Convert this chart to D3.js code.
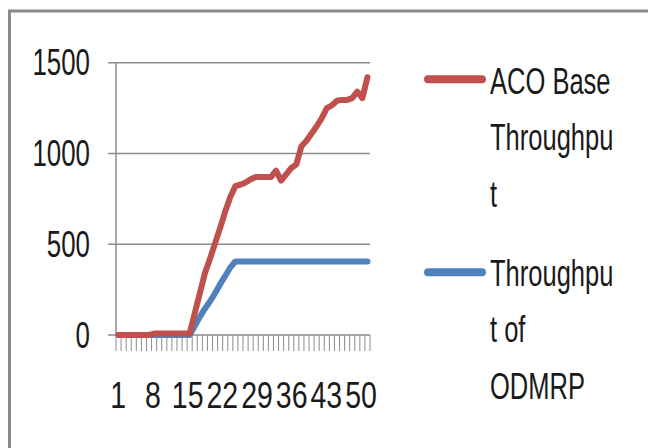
<!DOCTYPE html>
<html>
<head>
<meta charset="utf-8">
<script src="https://cdn.jsdelivr.net/npm/d3@7"></script>
<style>
  body { margin: 0; background: #fff; }
  svg text { font-family: "Liberation Sans", Arial, sans-serif; font-size: 37px; fill: #1a1a1a; }
</style>
</head>
<body>
<svg id="chart" width="648" height="448"></svg>
<script>
// categories 1..50
const categories = [];
for (let i = 1; i <= 50; i++) categories.push(i);
const xTickLabels = [1, 8, 15, 22, 29, 36, 43, 50];
const yTicks = [0, 500, 1000, 1500];

const acoThroughput = [
	0, 0, 0, 0, 0, 0, 0, 8, 8, 8,
	8, 8, 8, 8, 8, 120, 230, 340, 420, 505,
	590, 680, 760, 820, 828, 840, 858, 870, 870, 870,
	870, 905, 850, 885, 920, 940, 1040, 1070, 1110, 1150,
	1195, 1250, 1265, 1290, 1295, 1295, 1305, 1340, 1305, 1420
];
const odmrpThroughput = [
	0, 0, 0, 0, 0, 0, 0, 0, 0, 0,
	0, 0, 0, 0, 0, 50, 100, 145, 185, 230,
	280, 325, 372, 405, 405, 405, 405, 405, 405, 405,
	405, 405, 405, 405, 405, 405, 405, 405, 405, 405,
	405, 405, 405, 405, 405, 405, 405, 405, 405, 405
];

const seriesNames = [
	["ACO Base", "Throughpu", "t"],
	["Throughpu", "t of", "ODMRP"]
];
const seriesColors = ["#c0504d", "#4f81bd"];

const svg = d3.select("#chart");

// outer frame (runs off the picture on the right and bottom)
svg.append("rect")
	.attr("x", 9.5).attr("y", 11)
	.attr("width", 700).attr("height", 500)
	.attr("fill", "none")
	.attr("stroke", "#8a8a8a")
	.attr("stroke-width", 3);

const x = d3.scaleBand().domain(categories).range([116, 370]);
const y = d3.scaleLinear().domain([0, 1500]).range([335, 62.7]);
// labels sit a bit tighter than the categories in the original
const xLabel = d3.scaleLinear().domain([1, 50]).range([118.3, 361]);

// gridlines
svg.append("g")
	.selectAll("line")
	.data(yTicks)
	.join("line")
	.attr("x1", 108).attr("x2", 370)
	.attr("y1", (d) => y(d)).attr("y2", (d) => y(d))
	.attr("stroke", "#8c8c8c")
	.attr("stroke-width", 1.5);

// y axis line
svg.append("line")
	.attr("x1", 116).attr("x2", 116)
	.attr("y1", y(1500)).attr("y2", y(0))
	.attr("stroke", "#8c8c8c")
	.attr("stroke-width", 1.5);

// x ticks between categories
const tickPos = categories.map((c) => x(c)).concat([x.range()[1]]);
svg.append("g")
	.selectAll("line")
	.data(tickPos)
	.join("line")
	.attr("x1", (d) => d).attr("x2", (d) => d)
	.attr("y1", y(0)).attr("y2", y(0) + 16)
	.attr("stroke", "#8c8c8c")
	.attr("stroke-width", 1);

// y labels
svg.append("g")
	.selectAll("text")
	.data(yTicks)
	.join("text")
	.attr("transform", (d) => `translate(90,${y(d) + 12.5}) scale(0.7,1)`)
	.attr("text-anchor", "end")
	.text((d) => d);

// x labels
svg.append("g")
	.selectAll("text")
	.data(xTickLabels)
	.join("text")
	.attr("transform", (d) => `translate(${xLabel(d)},408) scale(0.77,1)`)
	.attr("text-anchor", "middle")
	.text((d) => d);

// lines
const line = d3.line()
	.x((d, i) => x(categories[i]) + x.bandwidth() / 2)
	.y((d) => y(d));

[acoThroughput, odmrpThroughput].forEach((s, k) => {
	svg.append("path")
		.datum(s)
		.attr("class", "series")
		.attr("d", line)
		.attr("fill", "none")
		.attr("stroke", seriesColors[k])
		.attr("stroke-width", 6)
		.attr("stroke-linejoin", "round")
		.attr("stroke-linecap", "round");
});
// red on top
svg.select("path.series").raise();

// legend
const legendTop = [79.3, 272.3];
const legendFirstBaseline = [93.5, 285.5];
seriesNames.forEach((lines, k) => {
	const g = svg.append("g");
	g.append("line")
		.attr("x1", 428).attr("x2", 482)
		.attr("y1", legendTop[k]).attr("y2", legendTop[k])
		.attr("stroke", seriesColors[k])
		.attr("stroke-width", 8)
		.attr("stroke-linecap", "round");
	g.selectAll("text")
		.data(lines)
		.join("text")
		.attr("transform", (d, i) => `translate(490,${legendFirstBaseline[k] + i * 56.5}) scale(0.69,1)`)
		.text((d) => d);
});
</script>
</body>
</html>
